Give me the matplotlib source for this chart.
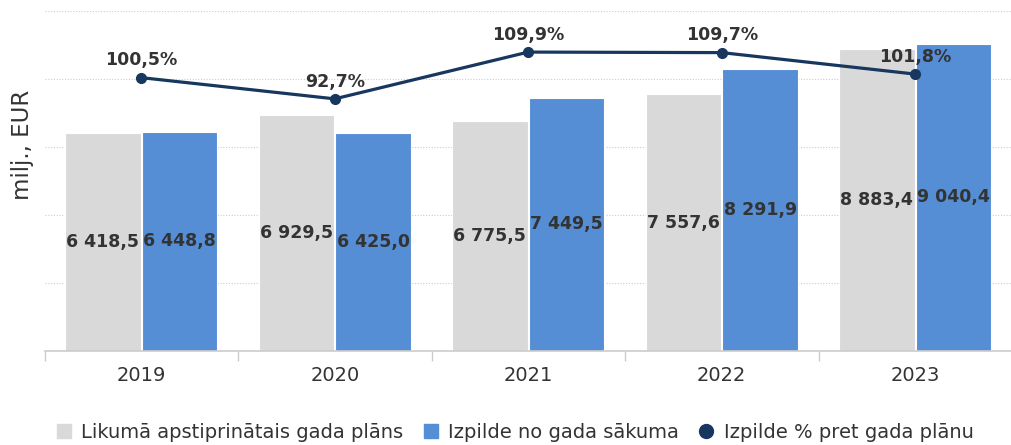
import matplotlib.pyplot as plt
from matplotlib.lines import Line2D


years = ["2019", "2020", "2021", "2022", "2023"]
plan = [6418.5, 6929.5, 6775.5, 7557.6, 8883.4]
actual = [6448.8, 6425.0, 7449.5, 8291.9, 9040.4]
pct = [100.5, 92.7, 109.9, 109.7, 101.8]

GRAY = "#d9d9d9"
BLUE = "#558ed5"
NAVY = "#17375e"
TEXT = "#333333"


def fmt_num(v):
    s = "{:,.1f}".format(v)
    return s.replace(",", " ").replace(".", ",")


def main():
    plt.rcParams['font.family'] = ['DejaVu Sans']
    fig = plt.figure(figsize=(10.11, 4.45), dpi=100)
    ax = fig.add_axes([44.5 / 1011, 94 / 445, 967.5 / 1011, 340 / 445])

    x = list(range(len(years)))
    w = 0.39
    xs_plan = [i - w / 2 - 0.003 for i in x]
    xs_act = [i + w / 2 + 0.003 for i in x]
    ax.bar(xs_plan, plan, width=w, color=GRAY, edgecolor="white", linewidth=0.8, zorder=2)
    ax.bar(xs_act, actual, width=w, color=BLUE, edgecolor="white", linewidth=0.8, zorder=2)

    for xp, v in zip(xs_plan, plan):
        ax.text(xp, v / 2, fmt_num(v), ha="center", va="center", fontsize=12.5,
                fontweight="bold", color=TEXT, zorder=5)
    for xp, v in zip(xs_act, actual):
        ax.text(xp, v / 2, fmt_num(v), ha="center", va="center", fontsize=12.5,
                fontweight="bold", color=TEXT, zorder=5)

    ax.set_xlim(-0.5, len(years) - 0.5)
    ax.set_ylim(0, 10000)
    ax.set_yticks([0, 2000, 4000, 6000, 8000, 10000])
    ax.set_yticklabels([])
    ax.tick_params(axis="y", length=0)
    ax.grid(axis="y", color="#cccccc", linestyle=(0, (1, 1.5)), linewidth=0.8, zorder=0)

    ax.set_xticks(x)
    ax.set_xticklabels(years, fontsize=14, color=TEXT)
    ax.set_xticks([i - 0.5 for i in range(len(years) + 1)], minor=True)
    ax.tick_params(axis="x", which="major", length=0, pad=11)
    ax.tick_params(axis="x", which="minor", length=7, color="#cccccc", width=1)
    for side in ["top", "right", "left"]:
        ax.spines[side].set_visible(False)
    ax.spines["bottom"].set_color("#cccccc")
    ax.spines["bottom"].set_linewidth(1.2)

    ax2 = ax.twinx()
    ax2.set_ylim(0, 125)
    ax2.axis("off")
    ax2.plot(x, pct, color=NAVY, linewidth=2.3, marker="o", markersize=7, zorder=4)
    for i, p in zip(x, pct):
        ax2.annotate("{:.1f}%".format(p).replace(".", ","), (i, p), xytext=(0, 6),
                     textcoords="offset points", ha="center", va="bottom",
                     fontsize=12.5, fontweight="bold", color=TEXT)

    fig.text(22 / 1011, 1 - 145 / 445, "milj., EUR", rotation=90, ha="center",
             va="center", fontsize=16.5, color=TEXT)

    handles = [
        Line2D([], [], marker="s", linestyle="none", markersize=10, color=GRAY),
        Line2D([], [], marker="s", linestyle="none", markersize=10, color=BLUE),
        Line2D([], [], marker="o", linestyle="none", markersize=10, color=NAVY),
    ]
    labels = ["Likumā apstiprinātais gada plāns", "Izpilde no gada sākuma",
              "Izpilde % pret gada plānu"]
    leg = fig.legend(handles, labels, loc="center", bbox_to_anchor=(515 / 1011, 13 / 445),
                     ncol=3, frameon=False, fontsize=14, handlelength=0.8,
                     handletextpad=0.5, columnspacing=1.0)
    for t in leg.get_texts():
        t.set_color(TEXT)

    fig.savefig("out.png", dpi=100)


if __name__ == '__main__':
    main()
